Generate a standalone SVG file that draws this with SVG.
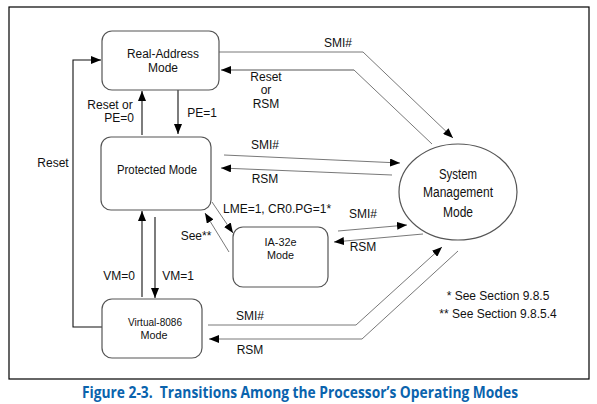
<svg xmlns="http://www.w3.org/2000/svg" width="597" height="404" viewBox="0 0 597 404">
<style>
.node{fill:#fff;stroke:#555;stroke-width:1.2}
.nt{font-family:"Liberation Sans",Arial,sans-serif;font-size:12.5px;fill:#111;text-anchor:middle}
.sm{font-size:11.5px}
.st{font-family:"Liberation Sans",Arial,sans-serif;font-size:14px;fill:#111;text-anchor:middle}
.lb{font-family:"Liberation Sans",Arial,sans-serif;font-size:12px;fill:#111;text-anchor:middle}
.c{fill:none;stroke:#111;stroke-width:1.1}
.g{fill:none;stroke:#555;stroke-width:0.8}
.lg{fill:none;stroke:#aaa;stroke-width:1.8}
</style>
<defs>
<marker id="ah" markerUnits="userSpaceOnUse" markerWidth="10" markerHeight="8" refX="10" refY="4" orient="auto">
<path d="M0,0 L10,4 L0,8 Z" fill="#000"/>
</marker>
</defs>
<rect x="9" y="7" width="580" height="372" fill="#fff" stroke="#000" stroke-width="1.2"/>
<g id="connectors">
<polyline class="c" points="102,327 73,327 73,60 101,60" marker-end="url(#ah)"/>
<line class="c" x1="142" y1="135" x2="142" y2="91" marker-end="url(#ah)"/>
<line class="c" x1="178" y1="90" x2="178" y2="134" marker-end="url(#ah)"/>
<line class="c" x1="142" y1="297" x2="142" y2="211" marker-end="url(#ah)"/>
<line class="c" x1="155" y1="217" x2="155" y2="298" marker-end="url(#ah)"/>
<line class="g" x1="212" y1="202" x2="233" y2="233" marker-end="url(#ah)"/>
<line class="g" x1="229" y1="252" x2="205" y2="213" marker-end="url(#ah)"/>
<polyline class="g" points="219,52 363,52 453,138" marker-end="url(#ah)"/>
<polyline class="g" points="432,144 354,70 300,70"/>
<line class="lg" x1="354" y1="70" x2="221" y2="70" marker-end="url(#ah)"/>
<line class="g" x1="224" y1="155" x2="400" y2="163" marker-end="url(#ah)"/>
<line class="g" x1="392" y1="175" x2="221" y2="168" marker-end="url(#ah)"/>
<line class="g" x1="338" y1="231" x2="407" y2="225" marker-end="url(#ah)"/>
<line class="g" x1="423" y1="234" x2="334" y2="242" marker-end="url(#ah)"/>
<polyline class="g" points="208,325 356,325 442,247" marker-end="url(#ah)"/>
<polyline class="g" points="458,251 362,339 209,339" marker-end="url(#ah)"/>
</g>
<g id="labels">
<text class="lb" x="53" y="167">Reset</text>
<text class="lb" x="110" y="109">Reset or</text>
<text class="lb" x="119" y="122">PE=0</text>
<text class="lb" x="202" y="117">PE=1</text>
<text class="lb" x="119" y="280">VM=0</text>
<text class="lb" x="178" y="280">VM=1</text>
<text class="lb" x="223" y="213" style="text-anchor:start">LME=1, CR0.PG=1*</text>
<text class="lb" x="196" y="240">See**</text>
<text class="lb" x="338" y="47">SMI#</text>
<text class="lb" x="266" y="81">Reset</text>
<text class="lb" x="266" y="94">or</text>
<text class="lb" x="266" y="108">RSM</text>
<text class="lb" x="265" y="149">SMI#</text>
<text class="lb" x="265" y="183">RSM</text>
<text class="lb" x="363" y="218">SMI#</text>
<text class="lb" x="363" y="251">RSM</text>
<text class="lb" x="250" y="320">SMI#</text>
<text class="lb" x="250" y="354">RSM</text>
<text class="lb" x="498" y="300">* See Section 9.8.5</text>
<text class="lb" x="498" y="318">** See Section 9.8.5.4</text>
</g>
<g id="real-address">
<rect class="node" x="102" y="31" width="117" height="59" rx="10"/>
<text class="nt" x="163" y="58" textLength="72" lengthAdjust="spacingAndGlyphs">Real-Address</text>
<text class="nt" x="163" y="72" textLength="30" lengthAdjust="spacingAndGlyphs">Mode</text>
</g>
<g id="protected">
<rect class="node" x="101" y="137" width="110" height="73" rx="10"/>
<text class="nt" x="157" y="174" textLength="80" lengthAdjust="spacingAndGlyphs">Protected Mode</text>
</g>
<g id="ia32e">
<rect class="node" x="233" y="227" width="95" height="60" rx="10"/>
<text class="nt sm" x="280.5" y="246" textLength="32" lengthAdjust="spacingAndGlyphs">IA-32e</text>
<text class="nt sm" x="280.5" y="259" textLength="27" lengthAdjust="spacingAndGlyphs">Mode</text>
</g>
<g id="virtual8086">
<rect class="node" x="102" y="299" width="100" height="59" rx="10"/>
<text class="nt sm" x="155" y="326" textLength="54" lengthAdjust="spacingAndGlyphs">Virtual-8086</text>
<text class="nt sm" x="154" y="339" textLength="27" lengthAdjust="spacingAndGlyphs">Mode</text>
</g>
<g id="smm">
<ellipse class="node" cx="458" cy="192" rx="59" ry="48"/>
<text class="st" x="458" y="179" textLength="38" lengthAdjust="spacingAndGlyphs">System</text>
<text class="st" x="458" y="197" textLength="70" lengthAdjust="spacingAndGlyphs">Management</text>
<text class="st" x="458" y="217" textLength="30" lengthAdjust="spacingAndGlyphs">Mode</text>
</g>
<text x="82" y="398" xml:space="preserve" textLength="436" lengthAdjust="spacingAndGlyphs" font-family="'Open Sans','DejaVu Sans',sans-serif" font-weight="bold" font-size="15.5" fill="#0a63ad">Figure 2-3.  Transitions Among the Processor’s Operating Modes</text>
</svg>
